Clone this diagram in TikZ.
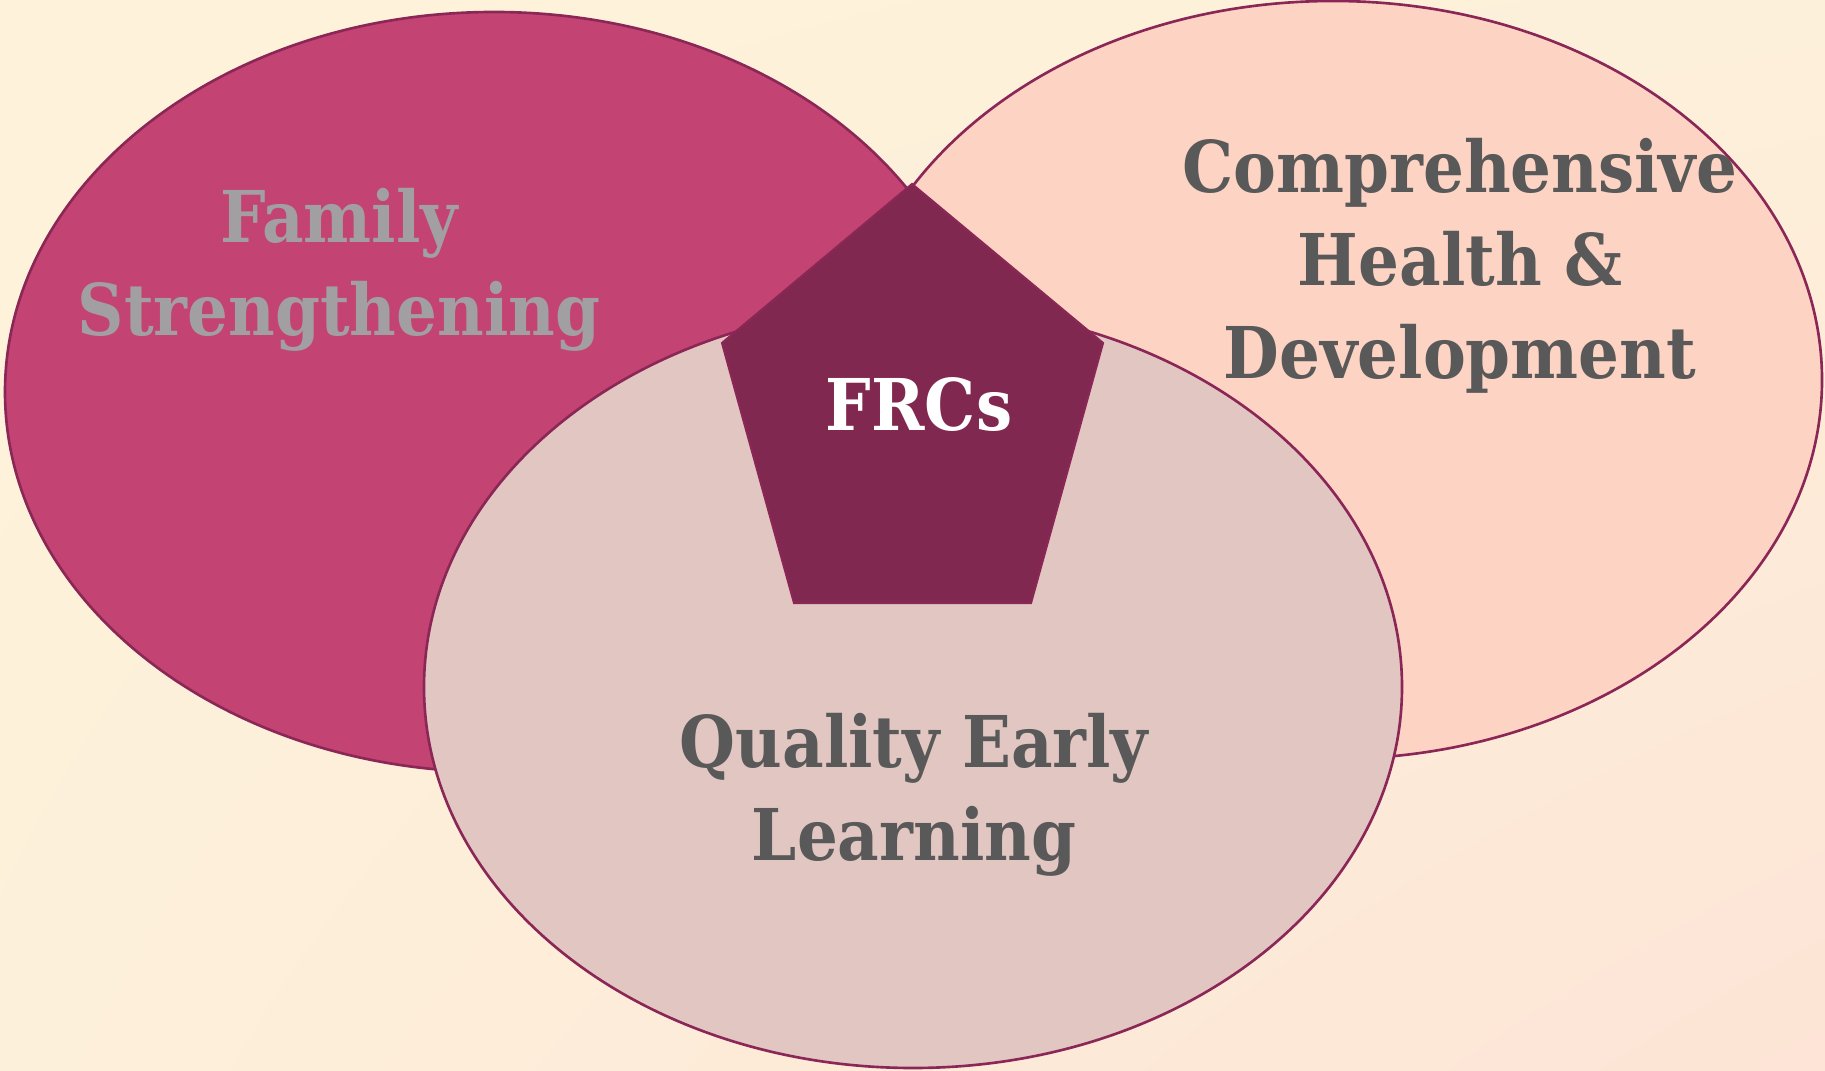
\documentclass[tikz,border=0pt]{standalone}
\usepackage{fontspec}
\usetikzlibrary{shadings}
\newfontfamily\lblfont{DejaVu Serif Condensed}
\definecolor{bgA}{HTML}{FEF3DA}
\definecolor{bgB}{HTML}{FDF0DA}
\definecolor{bgC}{HTML}{FDE4D6}
\definecolor{leftfill}{HTML}{C34472}
\definecolor{rightfill}{HTML}{FDD3C3}
\definecolor{botfill}{HTML}{E2C6C1}
\definecolor{pentfill}{HTML}{80284F}
\definecolor{rim}{HTML}{8B2757}
\definecolor{darktext}{HTML}{595959}
\definecolor{lighttext}{HTML}{A29FA3}
\tikzset{
  bubble/.style={draw=rim, line width=0.75pt},
  lbl/.style={font=\lblfont\bfseries\fontsize{20.3}{26.5}\selectfont, align=center, inner sep=0pt},
}
\begin{document}
\begin{tikzpicture}[x=0.01cm, y=-0.01cm]
  \useasboundingbox (0,0) rectangle (1825,1071);
  \shade[upper left=bgA, upper right=bgB, lower left=bgB, lower right=bgC] (0,0) rectangle (1825,1071);
  % circles
  \draw[bubble, fill=rightfill] (1333,380) ellipse [x radius=489, y radius=379];
  \draw[bubble, fill=leftfill] (494,392) ellipse [x radius=489, y radius=380];
  \draw[bubble, fill=botfill] (913,687) ellipse [x radius=489, y radius=381];
  % pentagon
  \coordinate (pt) at (912,184);
  \coordinate (pur) at (1103,343);
  \coordinate (pbr) at (1031,603);
  \coordinate (pbl) at (794,603);
  \coordinate (pul) at (722,343);
  \draw[draw=rim, line width=0.6pt, fill=pentfill] (pt) -- (pur) -- (pbr) -- (pbl) -- (pul) -- cycle;
  % labels
  \node[lbl, text=lighttext] (fam) at (339,270) {Family\\Strengthening};
  \node[lbl, text=darktext] (chd) at (1460,266) {Comprehensive\\Health \&\\Development};
  \node[lbl, text=white] (frc) at (919,405) {FRCs};
  \node[lbl, text=darktext] (qel) at (914,795) {Quality Early\\Learning};
\end{tikzpicture}
\end{document}
